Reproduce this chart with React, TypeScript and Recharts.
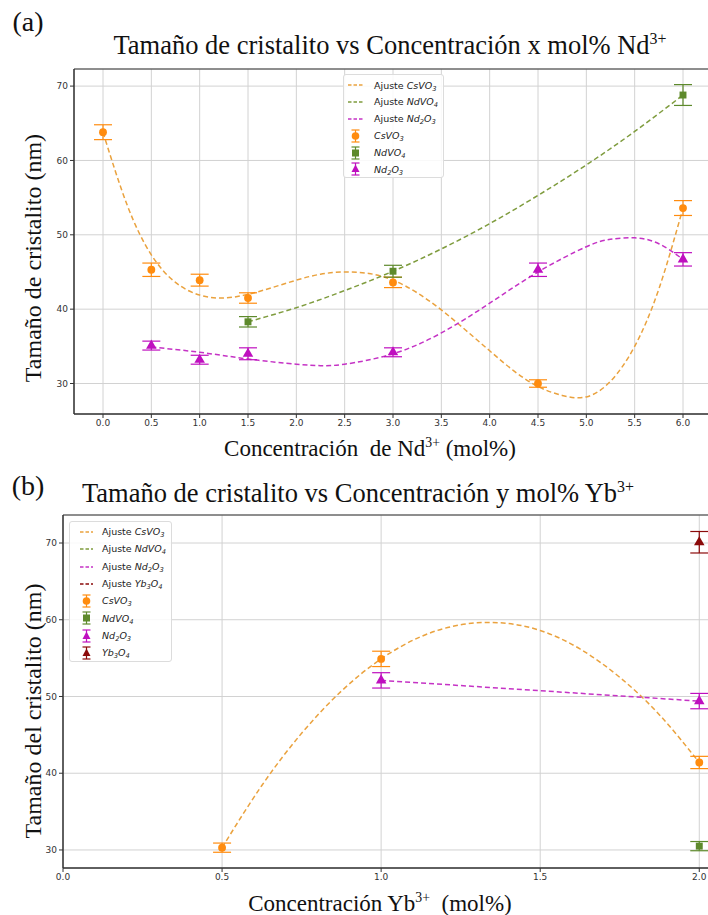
import React from 'react';
import {
  ComposedChart,
  Line,
  Scatter,
  XAxis,
  YAxis,
  ZAxis,
  CartesianGrid,
  ErrorBar,
  ReferenceArea,
} from 'recharts';

const SERIF = '"Liberation Serif", "Times New Roman", serif';
const SANS = '"DejaVu Sans", sans-serif';

const ORANGE = '#ff8c0f';
const ORANGE_FIT = '#eaa23e';
const GREEN = '#5e8a2c';
const GREEN_FIT = '#7f9c3e';
const MAGENTA = '#bf0fbf';
const MAGENTA_FIT = '#c533c5';
const DARKRED = '#8b0a0a';

// ---- (a) Nd3+ ----
const xCsA = [0, 0.5, 1, 1.5, 3, 4.5, 6];
const csA = [63.8, 45.3, 43.9, 41.5, 43.6, 30.0, 53.6];
const csAErr = [1.0, 0.9, 0.8, 0.7, 0.7, 0.5, 1.0];

const xNdVO4A = [1.5, 3, 6];
const ndVO4A = [38.3, 45.1, 68.8];
const ndVO4AErr = [0.7, 0.8, 1.4];

const xNd2O3A = [0.5, 1, 1.5, 3, 4.5, 6];
const nd2O3A = [35.1, 33.2, 34.0, 34.2, 45.3, 46.7];
const nd2O3AErr = [0.6, 0.6, 0.8, 0.6, 0.9, 0.9];

const fitXCsA = [0, 0.25, 0.5, 0.75, 1, 1.25, 1.5, 1.75, 2, 2.25, 2.5, 2.75, 3, 3.25, 3.5, 3.75, 4, 4.25, 4.5, 4.75, 5, 5.25, 5.5, 5.75, 6];
const fitCsA = [63.8, 54.0, 47.3, 43.6, 41.9, 41.5, 42.0, 42.9, 43.9, 44.7, 45.0, 44.8, 43.9, 42.2, 39.9, 37.2, 34.4, 31.7, 29.6, 28.4, 28.2, 30.3, 35.0, 42.7, 53.6];

const fitXNdVO4A = [1.5, 2, 2.5, 3, 3.5, 4, 4.5, 5, 5.5, 6];
const fitNdVO4A = [38.3, 40.2, 42.5, 45.1, 48.1, 51.5, 55.3, 59.4, 63.9, 68.8];

const fitXNd2O3A = [0.5, 1, 1.5, 2, 2.25, 2.5, 3, 3.5, 4, 4.5, 5, 5.25, 5.5, 5.75, 6];
const fitNd2O3A = [34.9, 34.2, 33.3, 32.6, 32.4, 32.6, 34.0, 36.8, 40.8, 45.0, 48.4, 49.4, 49.6, 48.8, 46.7];

const ticksXA = [0, 0.5, 1, 1.5, 2, 2.5, 3, 3.5, 4, 4.5, 5, 5.5, 6];
const ticksY = [30, 40, 50, 60, 70];

// ---- (b) Yb3+ ----
const xCsB = [0.5, 1, 2];
const csB = [30.3, 54.9, 41.4];
const csBErr = [0.6, 1.0, 0.8];

const xNdVO4B = [2];
const ndVO4B = [30.5];
const ndVO4BErr = [0.6];

const xNd2O3B = [1, 2];
const nd2O3B = [52.1, 49.4];
const nd2O3BErr = [1.0, 1.0];

const xYb3O4B = [2];
const yb3O4B = [70.1];
const yb3O4BErr = [1.4];

const fitXCsB = [0.5, 0.625, 0.75, 0.875, 1, 1.125, 1.25, 1.375, 1.5, 1.625, 1.75, 1.875, 2];
const fitCsB = [30.3, 38.4, 45.2, 50.7, 54.9, 57.8, 59.35, 59.6, 58.6, 56.2, 52.5, 47.6, 41.4];

const fitXNd2O3B = [1, 2];
const fitNd2O3B = [52.1, 49.4];

const ticksXB = [0, 0.5, 1, 1.5, 2];

const toPts = (xs: number[], ys: number[], es?: number[]) =>
  xs.map((x, i) => ({ x, y: ys[i], err: es ? es[i] : 0 }));

type Fit = { data: { x: number; y: number }[]; color: string };
type Pts = { data: { x: number; y: number; err: number }[]; color: string; shape: 'circle' | 'square' | 'triangle' };

function Panel(props: {
  width: number;
  height: number;
  margin: { top: number; right: number; bottom: number; left: number };
  xDomain: [number, number];
  xTicks: number[];
  yDomain: [number, number];
  fits: Fit[];
  points: Pts[];
}) {
  const { width, height, margin, xDomain, xTicks, yDomain, fits, points } = props;
  const tick = { fontSize: 9, fill: '#333', fontFamily: SANS };
  return (
    <ComposedChart width={width} height={height} margin={margin}>
      <CartesianGrid stroke="#d2d2d2" strokeWidth={1} />
      <XAxis
        type="number"
        dataKey="x"
        domain={xDomain}
        ticks={xTicks}
        interval={0}
        allowDataOverflow
        tickFormatter={(v: number) => v.toFixed(1)}
        tick={tick}
        tickSize={4}
        stroke="#333"
        height={30}
      />
      <YAxis
        type="number"
        dataKey="y"
        domain={yDomain}
        ticks={ticksY}
        interval={0}
        allowDataOverflow
        tick={tick}
        tickSize={4}
        stroke="#333"
        width={40}
      />
      <ZAxis range={[48, 48]} />
      <ReferenceArea
        x1={xDomain[0]}
        x2={xDomain[1]}
        y1={yDomain[0]}
        y2={yDomain[1]}
        fill="none"
        stroke="#333"
        strokeWidth={1}
        ifOverflow="visible"
      />
      {fits.map((f, i) => (
        <Line
          key={'f' + i}
          data={f.data}
          dataKey="y"
          type="natural"
          stroke={f.color}
          strokeWidth={1.5}
          strokeDasharray="5 3"
          dot={false}
          activeDot={false}
          isAnimationActive={false}
        />
      ))}
      {points.map((p, i) => (
        <Scatter
          key={'p' + i}
          data={p.data}
          dataKey="y"
          fill={p.color}
          shape={p.shape}
          isAnimationActive={false}
        >
          <ErrorBar dataKey="err" direction="y" width={9} stroke={p.color} strokeWidth={1.2} />
        </Scatter>
      ))}
    </ComposedChart>
  );
}

type Entry = { kind: 'line' | 'marker'; color: string; shape?: string; label: React.ReactNode };

function Chem({ parts }: { parts: [string, string?][] }) {
  return (
    <i>
      {parts.map(([t, s], i) => (
        <React.Fragment key={i}>
          {t}
          {s ? <span style={{ fontSize: '0.7em', position: 'relative', top: '0.3em' }}>{s}</span> : null}
        </React.Fragment>
      ))}
    </i>
  );
}

const CS = <Chem parts={[['CsVO', '3']]} />;
const NDV = <Chem parts={[['NdVO', '4']]} />;
const NDO = <Chem parts={[['Nd', '2'], ['O', '3']]} />;
const YBO = <Chem parts={[['Yb', '3'], ['O', '4']]} />;

function Icon({ e, w }: { e: Entry; w: number }) {
  if (e.kind === 'line') {
    return (
      <svg width={w} height={10} style={{ display: 'block' }}>
        <line x1={0} y1={5} x2={w} y2={5} stroke={e.color} strokeWidth={1.5} strokeDasharray="3.5 2" />
      </svg>
    );
  }
  const cx = w / 2;
  let mark: React.ReactNode;
  if (e.shape === 'square') mark = <rect x={cx - 3.5} y={3.5} width={7} height={7} fill={e.color} />;
  else if (e.shape === 'triangle') mark = <polygon points={`${cx},2.5 ${cx + 4},10 ${cx - 4},10`} fill={e.color} />;
  else mark = <circle cx={cx} cy={7} r={3.8} fill={e.color} />;
  return (
    <svg width={w} height={14} style={{ display: 'block' }}>
      <line x1={cx} y1={1} x2={cx} y2={13} stroke={e.color} strokeWidth={1.2} />
      <line x1={cx - 4} y1={1} x2={cx + 4} y2={1} stroke={e.color} strokeWidth={1.2} />
      <line x1={cx - 4} y1={13} x2={cx + 4} y2={13} stroke={e.color} strokeWidth={1.2} />
      {mark}
    </svg>
  );
}

function LegendBox(props: {
  left: number;
  top: number;
  width: number;
  height: number;
  rowH: number;
  padTop: number;
  iconX: number;
  iconW: number;
  textX: number;
  entries: Entry[];
}) {
  const { left, top, width, height, rowH, padTop, iconX, iconW, textX, entries } = props;
  return (
    <div
      style={{
        position: 'absolute',
        left,
        top,
        width,
        height,
        background: 'rgba(255,255,255,0.85)',
        border: '1px solid #dcdcdc',
        borderRadius: 3,
        boxSizing: 'border-box',
        fontFamily: SANS,
        fontSize: 9.5,
        color: '#222',
      }}
    >
      {entries.map((e, i) => (
        <div
          key={i}
          style={{
            position: 'absolute',
            left: 0,
            top: padTop + i * rowH,
            height: rowH,
            width: '100%',
            display: 'flex',
            alignItems: 'center',
          }}
        >
          <div style={{ position: 'absolute', left: iconX }}>
            <Icon e={e} w={iconW} />
          </div>
          <div style={{ position: 'absolute', left: textX, whiteSpace: 'nowrap', lineHeight: 1 }}>{e.label}</div>
        </div>
      ))}
    </div>
  );
}

function Txt({ x, y, size, children, rotate }: { x: number; y: number; size: number; children: React.ReactNode; rotate?: boolean }) {
  return (
    <div
      style={{
        position: 'absolute',
        left: x,
        top: y,
        transform: `translate(-50%, -50%)${rotate ? ' rotate(-90deg)' : ''}`,
        fontFamily: SERIF,
        fontSize: size,
        whiteSpace: 'nowrap',
        lineHeight: 1,
        color: '#111',
      }}
    >
      {children}
    </div>
  );
}

const sup = (s: string) => <sup style={{ fontSize: '0.6em', verticalAlign: '0.65em' }}>{s}</sup>;

export default function App() {
  const fitsA: Fit[] = [
    { data: toPts(fitXCsA, fitCsA), color: ORANGE_FIT },
    { data: toPts(fitXNdVO4A, fitNdVO4A), color: GREEN_FIT },
    { data: toPts(fitXNd2O3A, fitNd2O3A), color: MAGENTA_FIT },
  ];
  const pointsA: Pts[] = [
    { data: toPts(xCsA, csA, csAErr), color: ORANGE, shape: 'circle' },
    { data: toPts(xNdVO4A, ndVO4A, ndVO4AErr), color: GREEN, shape: 'square' },
    { data: toPts(xNd2O3A, nd2O3A, nd2O3AErr), color: MAGENTA, shape: 'triangle' },
  ];
  const fitsB: Fit[] = [
    { data: toPts(fitXCsB, fitCsB), color: ORANGE_FIT },
    { data: toPts(fitXNd2O3B, fitNd2O3B), color: MAGENTA_FIT },
  ];
  const pointsB: Pts[] = [
    { data: toPts(xCsB, csB, csBErr), color: ORANGE, shape: 'circle' },
    { data: toPts(xNdVO4B, ndVO4B, ndVO4BErr), color: GREEN, shape: 'square' },
    { data: toPts(xNd2O3B, nd2O3B, nd2O3BErr), color: MAGENTA, shape: 'triangle' },
    { data: toPts(xYb3O4B, yb3O4B, yb3O4BErr), color: DARKRED, shape: 'triangle' },
  ];

  const legendA: Entry[] = [
    { kind: 'line', color: ORANGE_FIT, label: <>Ajuste {CS}</> },
    { kind: 'line', color: GREEN_FIT, label: <>Ajuste {NDV}</> },
    { kind: 'line', color: MAGENTA_FIT, label: <>Ajuste {NDO}</> },
    { kind: 'marker', color: ORANGE, shape: 'circle', label: CS },
    { kind: 'marker', color: GREEN, shape: 'square', label: NDV },
    { kind: 'marker', color: MAGENTA, shape: 'triangle', label: NDO },
  ];
  const legendB: Entry[] = [
    { kind: 'line', color: ORANGE_FIT, label: <>Ajuste {CS}</> },
    { kind: 'line', color: GREEN_FIT, label: <>Ajuste {NDV}</> },
    { kind: 'line', color: MAGENTA_FIT, label: <>Ajuste {NDO}</> },
    { kind: 'line', color: DARKRED, label: <>Ajuste {YBO}</> },
    { kind: 'marker', color: ORANGE, shape: 'circle', label: CS },
    { kind: 'marker', color: GREEN, shape: 'square', label: NDV },
    { kind: 'marker', color: MAGENTA, shape: 'triangle', label: NDO },
    { kind: 'marker', color: DARKRED, shape: 'triangle', label: YBO },
  ];

  return (
    <div
      style={{
        position: 'absolute',
        left: 0,
        top: 0,
        width: 708,
        height: 915,
        overflow: 'hidden',
        background: '#fff',
      }}
    >
      <div style={{ position: 'absolute', left: 0, top: 0 }}>
        <Panel
          width={730}
          height={460}
          margin={{ top: 69, right: 18, bottom: 16, left: 34 }}
          xDomain={[-0.3, 6.3]}
          xTicks={ticksXA}
          yDomain={[25.9, 72.3]}
          fits={fitsA}
          points={pointsA}
        />
      </div>
      <div style={{ position: 'absolute', left: 0, top: 470 }}>
        <Panel
          width={730}
          height={445}
          margin={{ top: 45, right: 18, bottom: 17, left: 23 }}
          xDomain={[0, 2.04]}
          xTicks={ticksXB}
          yDomain={[27.65, 73.65]}
          fits={fitsB}
          points={pointsB}
        />
      </div>

      <LegendBox left={343} top={74} width={101} height={104} rowH={16.8} padTop={2} iconX={4} iconW={15} textX={30} entries={legendA} />
      <LegendBox left={69} top={521} width={103} height={141} rowH={17.3} padTop={1.3} iconX={10} iconW={13} textX={32} entries={legendB} />

      <Txt x={28} y={22} size={28}>(a)</Txt>
      <Txt x={390} y={45} size={26.5}>Tamaño de cristalito vs Concentración x mol% Nd{sup('3+')}</Txt>
      <Txt x={370} y={448} size={23}>Concentración&nbsp;&nbsp;de Nd{sup('3+')} (mol%)</Txt>
      <Txt x={33} y={258} size={24} rotate>Tamaño de cristalito (nm)</Txt>

      <Txt x={28} y={486} size={28}>(b)</Txt>
      <Txt x={358} y={493} size={26.5}>Tamaño de cristalito vs Concentración y mol% Yb{sup('3+')}</Txt>
      <Txt x={380} y={903} size={23}>Concentración Yb{sup('3+')}&nbsp;&nbsp;(mol%)</Txt>
      <Txt x={33} y={711} size={24} rotate>Tamaño del cristalito (nm)</Txt>
    </div>
  );
}
